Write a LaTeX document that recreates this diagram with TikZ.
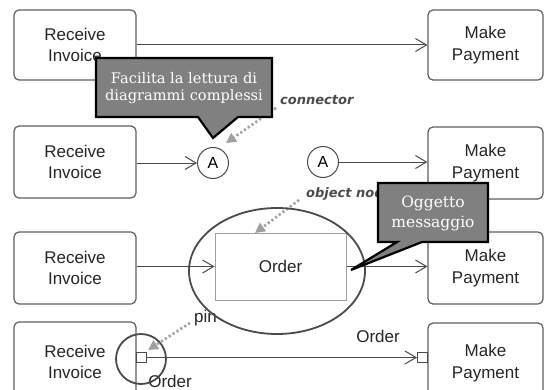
\documentclass[tikz,border=0pt]{standalone}
\usepackage{fontspec}
\setsansfont{Liberation Sans}
\newfontfamily\handfont{DejaVu Sans}
\newfontfamily\calloutfont{DejaVu Serif}
\usetikzlibrary{arrows.meta,shapes.geometric}
\definecolor{linegray}{HTML}{4A4A4A}
\definecolor{boxgray}{HTML}{5E5E5E}
\definecolor{dotgray}{HTML}{A0A0A0}
\definecolor{callfill}{HTML}{808080}
\begin{document}
\begin{tikzpicture}[x=1pt,y=-1pt,
  proc/.style={draw=boxgray, line width=1.2pt, rounded corners=5pt, minimum width=122pt,
    minimum height=70pt, align=center, inner sep=0pt, text=black!85,
    font=\sffamily\fontsize{17}{21.5}\selectfont},
  payproc/.style={proc, minimum width=115pt},
  flow/.style={draw=linegray, line width=1pt, -{Straight Barb[length=11pt,width=13pt,line width=1pt]}},
  pinbox/.style={draw=linegray, line width=1pt, fill=white, minimum size=10pt, inner sep=0pt},
  conn/.style={draw=linegray, line width=1pt, circle, minimum size=31pt, inner sep=0pt,
    font=\sffamily\fontsize{16}{18}\selectfont},
  hand/.style={font=\handfont\bfseries\itshape\fontsize{13}{15}\selectfont, text=black!70, inner sep=0pt},
  lbl/.style={font=\sffamily\fontsize{17}{19}\selectfont, text=black!85, inner sep=0pt},
  dots/.style={draw=dotgray, line width=2.6pt, dash pattern=on 2.2pt off 2.4pt,
    -{Triangle[length=10pt,width=10pt]}},
  callout/.style={fill=callfill, draw=black, line width=2.2pt, line join=miter},
  callouttext/.style={text=white, align=center, inner sep=0pt},
  ring/.style={draw=linegray, line width=1.8pt}
]
\clip (0,0) rectangle (545,390);
\fill[white] (0,0) rectangle (545,390);

% boxes
\node[proc] (ri1) at (75,45) {Receive\\Invoice};
\node[proc, minimum height=72pt] (ri2) at (75,162) {Receive\\Invoice};
\node[proc, minimum height=72pt] (ri3) at (75,268) {Receive\\Invoice};
\node[proc, minimum height=80pt] (ri4) at (75,362) {Receive\\Invoice};
\node[payproc] (mp1) at (485.5,45) {Make\\Payment};
\node[payproc, minimum height=72pt] (mp2) at (485.5,163) {Make\\Payment};
\node[payproc, minimum height=72pt] (mp3) at (485.5,268) {Make\\Payment};
\node[payproc, minimum height=80pt] (mp4) at (485.5,363) {Make\\Payment};

% row 1
\draw[flow] (ri1.east) -- (mp1.west);

% row 2
\node[conn] (a1) at (213,163) {A};
\node[conn] (a2) at (323,162) {A};
\draw[flow] (ri2.east |- a1) -- (a1.west);
\draw[flow] (a2.east) -- (mp2.west |- a2);
\node[hand, anchor=west] (lconn) at (280,100) {connector};
\coordinate (dc1) at (276,108);
\coordinate (dt1) at (226,143);
\draw[dots] (dc1) -- (dt1);

% row 3
\node[draw=gray!75, line width=1pt, minimum width=131pt, minimum height=67pt, inner sep=0pt,
  font=\sffamily\fontsize{17}{19}\selectfont, text=black!85] (order) at (280.5,266.5) {Order};
\draw[flow] (ri3.east |- order) -- (order.west);
\draw[flow] (order.east) -- (mp3.west |- order);
\node[hand, anchor=west] (lobj) at (306,194) {object node};
\coordinate (dc2) at (299,200);
\coordinate (dt2) at (255,233);
\draw[dots] (dc2) -- (dt2);
\node[lbl, anchor=west] (lpin) at (194,318) {pin};
\node[ring, ellipse, minimum width=176pt, minimum height=126pt, inner sep=0pt] (oval) at (277,271) {};

% row 4
\node[pinbox, anchor=west] (p1) at (136,357.5) {};
\node[pinbox, anchor=east] (p2) at (428,357.5) {};
\draw[flow] (p1.east) -- (p2.west);
\node[lbl] (lord1) at (378,336) {Order};
\node[lbl] (lord2) at (170,381) {Order};
\node[circle, ring, minimum size=50pt, inner sep=0pt] (pring) at (141,359) {};
\coordinate (dc3) at (190,323);
\coordinate (dt3) at (148,350);
\draw[dots] (dc3) -- (dt3);

% callout 1
\path[callout] (96,58) -- (272,58) -- (272,117) -- (238,117) -- (213,138) -- (198,117) -- (96,117) -- cycle;
\node[callouttext, font=\calloutfont\fontsize{14.6}{17.5}\selectfont] (c1) at (184,88) {Facilita la lettura di\\diagrammi complessi};

% callout 2
\path[callout] (378,183) -- (488,183) -- (488,242) -- (422,242) -- (351,270) -- (397,242) -- (378,242) -- cycle;
\node[callouttext, font=\calloutfont\fontsize{15.5}{20}\selectfont] (c2) at (433,213) {Oggetto\\messaggio};
\end{tikzpicture}
\end{document}
